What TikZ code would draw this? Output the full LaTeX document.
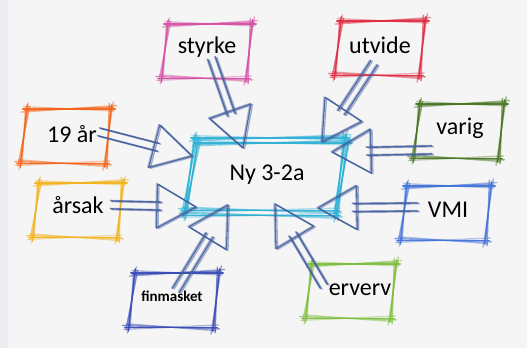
\documentclass[tikz,border=0pt]{standalone}
\usepackage{fontspec}
\setmainfont{Carlito}
\usepackage{xcolor}
\usetikzlibrary{calc}
\definecolor{bgc}{HTML}{F5F5F5}
\definecolor{stripc}{HTML}{EAECEF}
\definecolor{arrowc}{HTML}{45609E}
\definecolor{nyc}{HTML}{30B2D6}
\definecolor{pinkc}{HTML}{D452A4}
\definecolor{redc}{HTML}{DE2E44}
\definecolor{orangec}{HTML}{F2661C}
\definecolor{darkgreenc}{HTML}{4A7626}
\definecolor{yellowc}{HTML}{F2B420}
\definecolor{bluec}{HTML}{4474D8}
\definecolor{navyc}{HTML}{3A4CB6}
\definecolor{greenc}{HTML}{80BE40}
\tikzset{pencil/.style={line width=1.4pt, line cap=round, shorten <=-4pt, shorten >=-4pt},
  headline/.style={line width=1.3pt, line join=round}}

% sketched box round a node: node, colour, slant, offset
\newcommand{\sketchbox}[4]{%
  \foreach \dx/\dy/\op in {0/0/0.95, 2/1.5/0.65, -1.5/3/0.5, 1/-2/0.4}{
    \coordinate (c1) at ($(#1.north west)+(#4)+({#3+\dx},{\dy})$);
    \coordinate (c2) at ($(#1.north east)+(#4)+({#3-\dx},{-\dy})$);
    \coordinate (c3) at ($(#1.south east)+(#4)+({\dx-#3},{\dy})$);
    \coordinate (c4) at ($(#1.south west)+(#4)+({-\dx-#3},{-\dy})$);
    \foreach \a/\b in {c1/c2, c2/c3, c3/c4, c4/c1}
      \draw[pencil, draw=#2, draw opacity=\op] (\a) -- (\b);
  }}

% hollow arrow: tail, tip
\newcommand{\fatarrow}[2]{%
  \coordinate (hb) at ($(#2)!39pt!(#1)$);
  \foreach \sh/\op in {0pt/0.9, 1.5pt/0.5, -1pt/0.4}{
    \begin{scope}[transform canvas={shift={(\sh,{-0.5*\sh})}}]
      \draw[pencil, draw=arrowc, draw opacity=\op] ($(#1)!4pt!90:(#2)$) -- ($(hb)!4pt!-90:(#1)$);
      \draw[pencil, draw=arrowc, draw opacity=\op] ($(#1)!4pt!-90:(#2)$) -- ($(hb)!4pt!90:(#1)$);
      \draw[headline, draw=arrowc, draw opacity=\op] ($(hb)!22pt!90:(#1)$) -- (#2) -- ($(hb)!22pt!-90:(#1)$) -- cycle;
    \end{scope}}}

\begin{document}
\begin{tikzpicture}[x=1pt, y=-1pt,
    box/.style={font=\fontsize{24}{26}\selectfont, minimum width=84pt, minimum height=54pt, inner sep=0pt}]

  % background
  \fill[bgc] (0,0) rectangle (527,348);
  \fill[stripc] (0,0) rectangle (8,348);
  \useasboundingbox (0,0) rectangle (527,348);

  % centre
  \node[box, minimum width=150pt, minimum height=72pt] (ny) at (267,175) {Ny 3-2a};

  % outer words
  \node[box] (styrke) at (207,47) {styrke};
  \node[box] (utvide) at (380,45) {utvide};
  \node[box] (nitten) at (72,134) {19 år};
  \node[box] (varig) at (460,128) {varig};
  \node[box] (arsak) at (78,205) {årsak};
  \node[box] (vmi) at (448,210) {VMI};
  \node[box, font=\fontsize{15}{17}\selectfont\bfseries] (finmasket) at (172,296) {finmasket};
  \node[box] (erverv) at (360,290) {erverv};

  % sketched frames
  \sketchbox{ny}{nyc}{5}{-2,-1}
  \sketchbox{ny}{nyc}{6}{0,4}
  \sketchbox{styrke}{pinkc}{3}{0,4}
  \sketchbox{utvide}{redc}{3}{0,3}
  \sketchbox{nitten}{orangec}{3}{-6,2}
  \sketchbox{varig}{darkgreenc}{3}{-1,3}
  \sketchbox{arsak}{yellowc}{3}{0,5}
  \sketchbox{vmi}{bluec}{3}{-2,3}
  \sketchbox{finmasket}{navyc}{3}{2,4}
  \sketchbox{erverv}{greenc}{3}{-9,1}

  % arrow ends
  \coordinate (styrke-t) at ($(styrke)+(6,15)$);
  \coordinate (styrke-p) at ($(ny)+(-24,-27)$);
  \coordinate (utvide-t) at ($(utvide)+(-8,21)$);
  \coordinate (utvide-p) at ($(ny)+(55,-33)$);
  \coordinate (nitten-t) at ($(nitten)+(31,-1)$);
  \coordinate (nitten-p) at ($(ny)+(-75,-19)$);
  \coordinate (arsak-t) at ($(arsak)+(37,0)$);
  \coordinate (arsak-p) at ($(ny)+(-71,32)$);
  \coordinate (varig-t) at ($(varig)+(-32,22)$);
  \coordinate (varig-p) at ($(ny)+(65,-23)$);
  \coordinate (vmi-t) at ($(vmi)+(-34,-3)$);
  \coordinate (vmi-p) at ($(ny)+(51,33)$);
  \coordinate (finmasket-t) at ($(finmasket)+(6,-9)$);
  \coordinate (finmasket-p) at ($(ny)+(-39,30)$);
  \coordinate (erverv-t) at ($(erverv)+(-38,-7)$);
  \coordinate (erverv-p) at ($(ny)+(8,29)$);

  % arrows into the centre
  \fatarrow{styrke-t}{styrke-p}
  \fatarrow{utvide-t}{utvide-p}
  \fatarrow{nitten-t}{nitten-p}
  \fatarrow{arsak-t}{arsak-p}
  \fatarrow{varig-t}{varig-p}
  \fatarrow{vmi-t}{vmi-p}
  \fatarrow{finmasket-t}{finmasket-p}
  \fatarrow{erverv-t}{erverv-p}

\end{tikzpicture}
\end{document}
